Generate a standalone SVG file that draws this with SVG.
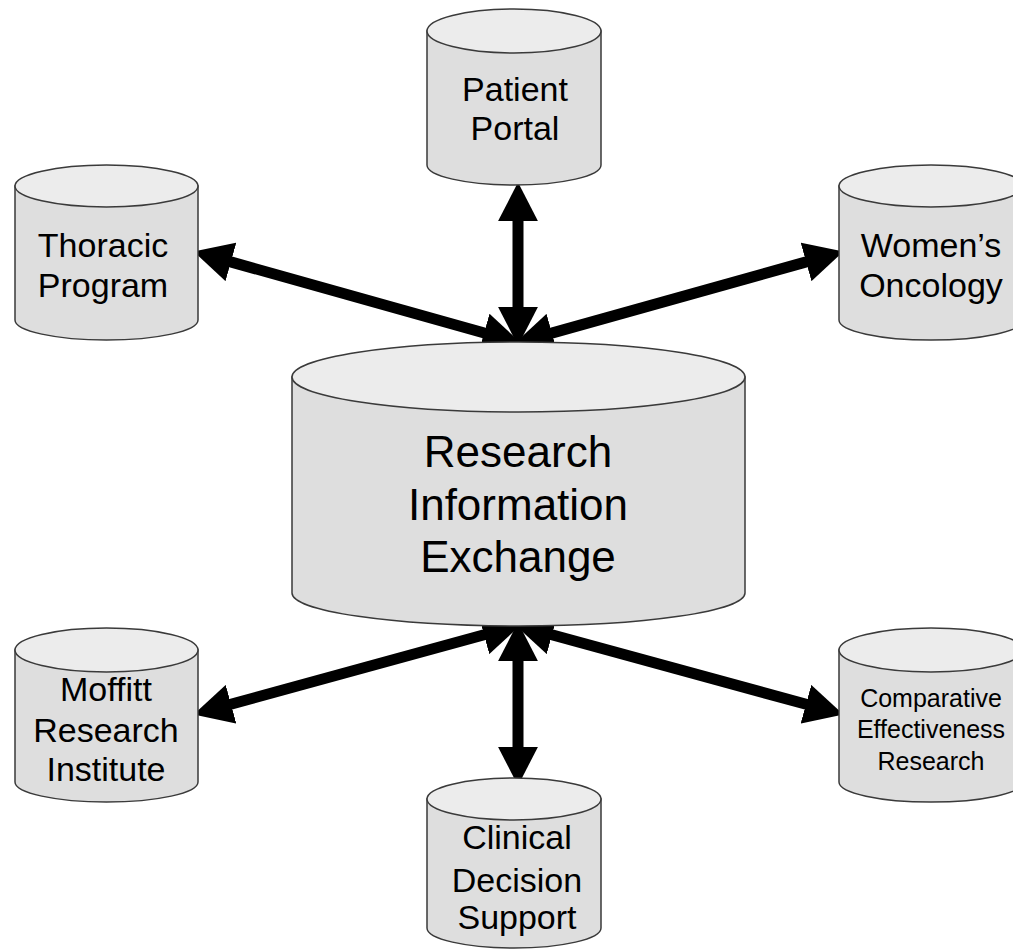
<svg xmlns="http://www.w3.org/2000/svg" width="1013" height="950" viewBox="0 0 1013 950">
<style>
.body{fill:#dedede;stroke:#3a3a3a;stroke-width:1.5}
.top{fill:#ececec;stroke:#3a3a3a;stroke-width:1.5}
.t{font-family:"Liberation Sans",Arial,sans-serif;font-size:34px;fill:#000;text-anchor:middle}
.big{font-size:44px}
.sm{font-size:25px}
.arr{stroke:#000;stroke-width:11;fill:none;marker-start:url(#ah);marker-end:url(#ah)}
</style>
<defs>
<marker id="ah" markerUnits="userSpaceOnUse" markerWidth="40" markerHeight="40" viewBox="0 -17 34 34" refX="1" refY="0" orient="auto-start-reverse">
<path d="M0,-17 L33,0 L0,17 Z" fill="#000"/>
</marker>
</defs>
<rect width="1013" height="950" fill="#fff"/>
<g id="connectors">
<line class="arr" x1="518" y1="220" x2="518" y2="308"/>
<line class="arr" x1="229.8" y1="261.6" x2="485.2" y2="333.3"/>
<line class="arr" x1="550.8" y1="333.4" x2="807.2" y2="261.6"/>
<line class="arr" x1="229.9" y1="704.5" x2="485.1" y2="634.5"/>
<line class="arr" x1="550.9" y1="634.5" x2="807.1" y2="704.5"/>
<line class="arr" x1="518" y1="660" x2="518" y2="748"/>
</g>
<g id="patient-portal">
<path class="body" d="M427,31 L427,165 A87,20 0 0 0 601,165 L601,31 Z"/>
<ellipse class="top" cx="514" cy="31" rx="87" ry="22"/>
<text class="t" x="515" y="101">Patient</text>
<text class="t" x="515" y="140">Portal</text>
</g>
<g id="thoracic-program">
<path class="body" d="M15,186 L15,320 A91.5,20 0 0 0 198,320 L198,186 Z"/>
<ellipse class="top" cx="106.5" cy="186" rx="91.5" ry="21"/>
<text class="t" x="103" y="257">Thoracic</text>
<text class="t" x="103" y="297">Program</text>
</g>
<g id="womens-oncology">
<path class="body" d="M839,186 L839,320 A92,20 0 0 0 1023,320 L1023,186 Z"/>
<ellipse class="top" cx="931" cy="186" rx="92" ry="21"/>
<text class="t" x="931" y="257">Women’s</text>
<text class="t" x="931" y="297">Oncology</text>
</g>
<g id="research-information-exchange">
<path class="body" d="M292,377 L292,593 A226.5,33 0 0 0 745,593 L745,377 Z"/>
<ellipse class="top" cx="518.5" cy="377" rx="226.5" ry="35"/>
<text class="t big" x="518" y="467">Research</text>
<text class="t big" x="518" y="520">Information</text>
<text class="t big" x="518" y="572">Exchange</text>
</g>
<g id="moffitt-research-institute">
<path class="body" d="M15,650 L15,782 A91.5,20 0 0 0 198,782 L198,650 Z"/>
<ellipse class="top" cx="106.5" cy="650" rx="91.5" ry="22"/>
<text class="t" x="106" y="701">Moffitt</text>
<text class="t" x="106" y="742">Research</text>
<text class="t" x="106" y="781">Institute</text>
</g>
<g id="comparative-effectiveness-research">
<path class="body" d="M839,650 L839,782 A92,20 0 0 0 1023,782 L1023,650 Z"/>
<ellipse class="top" cx="931" cy="650" rx="92" ry="22"/>
<text class="t sm" x="931" y="707">Comparative</text>
<text class="t sm" x="931" y="738">Effectiveness</text>
<text class="t sm" x="931" y="770">Research</text>
</g>
<g id="clinical-decision-support">
<path class="body" d="M427,799 L427,928 A87,20 0 0 0 601,928 L601,799 Z"/>
<ellipse class="top" cx="514" cy="799" rx="87" ry="21"/>
<text class="t" x="517" y="849">Clinical</text>
<text class="t" x="517" y="892">Decision</text>
<text class="t" x="517" y="929">Support</text>
</g>
</svg>
